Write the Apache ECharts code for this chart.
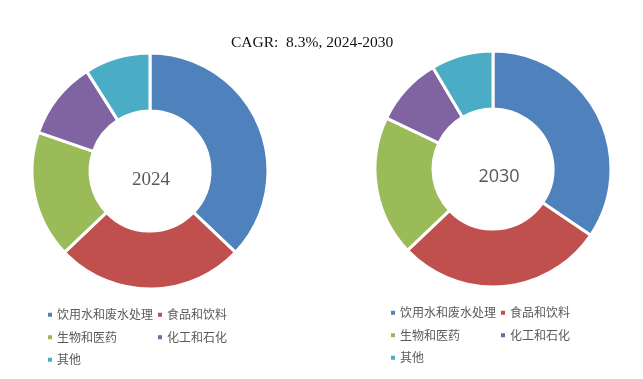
<!DOCTYPE html>
<html><head><meta charset="utf-8">
<script src="https://cdn.jsdelivr.net/npm/echarts@6/dist/echarts.min.js"></script>
<style>html,body{margin:0;padding:0;background:#fff;}#c{width:643px;height:379px;}</style>
</head><body><div id="c"></div>
<script>
var categories = ['饮用水和废水处理', '食品和饮料', '生物和医药', '化工和石化', '其他'];
var share2024 = [37.1, 25.8, 17.4, 10.7, 9.0];
var share2030 = [34.5, 28.4, 19.2, 9.4, 8.5];
var years = ['2024', '2030'];
var titleText = 'CAGR:  8.3%, 2024-2030';
var colors = ['#4F81BD', '#C0504D', '#9BBB59', '#8064A2', '#4BACC6'];

function toData(vals){ return categories.map(function(n,i){ return {name:n, value:vals[i]}; }); }
function legendAt(left, top){
  return {left:left, top:top, width:230, padding:0, orient:'horizontal', icon:'rect', itemWidth:6, itemHeight:6, itemGap:3,
    selectedMode:false, data:categories,
    textStyle:{fontFamily:'Noto Sans CJK SC', fontSize:12, color:'#595959', width:96, lineHeight:19.5, padding:[0,0,0,-1]}};
}
function pieAt(cx, cy, vals){
  return {type:'pie', center:[cx, cy], radius:[60, 118], startAngle:90, clockwise:true, silent:true,
    label:{show:false}, labelLine:{show:false},
    itemStyle:{borderColor:'#fff', borderWidth:3},
    data:toData(vals)};
}
var chart = echarts.init(document.getElementById('c'));
chart.setOption({
  animation:false,
  color:colors,
  title:{text:titleText, left:231, top:35, padding:0, textStyle:{fontFamily:'Liberation Serif', fontSize:15.5, fontWeight:'normal', color:'#111'}},
  legend:[legendAt(46, 305), legendAt(389, 303)],
  series:[pieAt(150, 171, share2024), pieAt(493, 169, share2030)],
  graphic:[
    {type:'text', x:151, y:180, style:{text:years[0], fill:'#595959', font:'19px "Liberation Serif"', textAlign:'center', textVerticalAlign:'middle'}},
    {type:'text', x:499, y:177, style:{text:years[1], fill:'#595959', font:'18px "Open Sans"', textAlign:'center', textVerticalAlign:'middle'}}
  ]
});
</script></body></html>
